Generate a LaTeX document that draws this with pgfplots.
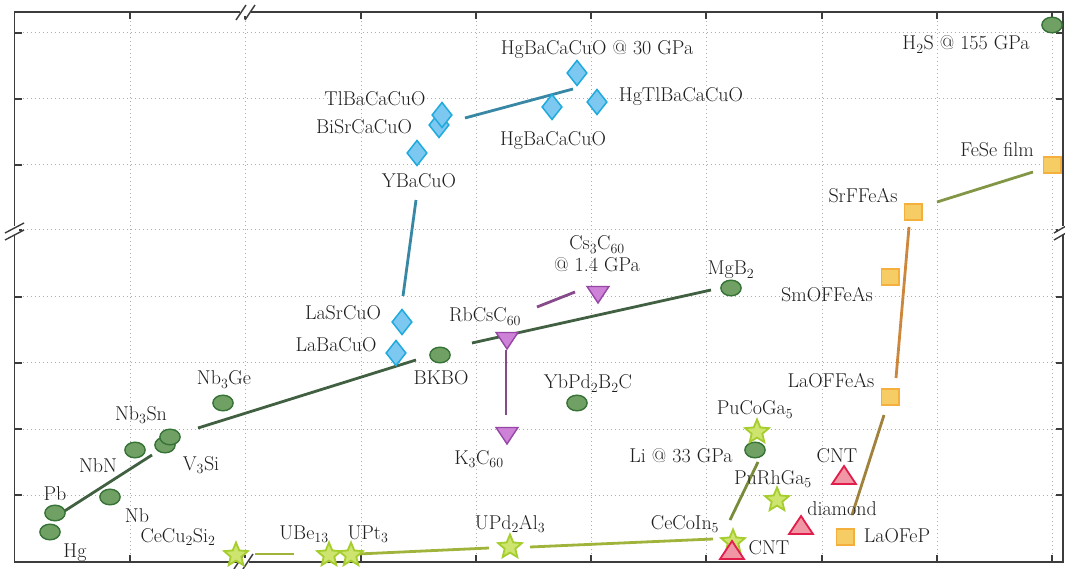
\documentclass[border=0pt]{standalone}
\usepackage{pgfplots}
\pgfplotsset{compat=1.18}
\definecolor{labc}{RGB}{30,30,30}
\definecolor{axc}{RGB}{60,60,60}
\definecolor{cfill}{RGB}{112,160,100}
\definecolor{cedge}{RGB}{55,115,55}
\definecolor{dfill}{RGB}{125,200,240}
\definecolor{dedge}{RGB}{30,170,220}
\definecolor{pfill}{RGB}{205,130,215}
\definecolor{pedge}{RGB}{150,70,165}
\definecolor{rfill}{RGB}{240,150,165}
\definecolor{redge}{RGB}{225,30,75}
\definecolor{sfill}{RGB}{205,228,110}
\definecolor{sedge}{RGB}{165,205,45}
\definecolor{qfill}{RGB}{245,205,100}
\definecolor{qedge}{RGB}{245,175,60}
\definecolor{lblue}{RGB}{55,135,165}
\definecolor{lgreen}{RGB}{65,95,65}
\definecolor{lpurple}{RGB}{135,75,140}
\definecolor{lhf}{RGB}{160,180,60}
\definecolor{lolive}{RGB}{120,140,60}
\definecolor{lbrown}{RGB}{160,130,60}
\definecolor{lorange}{RGB}{205,135,60}
\definecolor{lfese}{RGB}{130,150,70}
\pgfdeclareplotmark{pent}{%
  \pgfpathmoveto{\pgfqpointpolar{90}{\pgfplotmarksize}}%
  \pgfpathlineto{\pgfqpointpolar{126}{0.45\pgfplotmarksize}}%
  \pgfpathlineto{\pgfqpointpolar{162}{\pgfplotmarksize}}%
  \pgfpathlineto{\pgfqpointpolar{198}{0.45\pgfplotmarksize}}%
  \pgfpathlineto{\pgfqpointpolar{234}{\pgfplotmarksize}}%
  \pgfpathlineto{\pgfqpointpolar{270}{0.45\pgfplotmarksize}}%
  \pgfpathlineto{\pgfqpointpolar{306}{\pgfplotmarksize}}%
  \pgfpathlineto{\pgfqpointpolar{342}{0.45\pgfplotmarksize}}%
  \pgfpathlineto{\pgfqpointpolar{18}{\pgfplotmarksize}}%
  \pgfpathlineto{\pgfqpointpolar{54}{0.45\pgfplotmarksize}}%
  \pgfpathclose
  \pgfusepathqfillstroke}
\tikzset{lab/.style={anchor=base, text=labc, inner sep=0pt, font=\fontsize{20}{24}\selectfont}}
\begin{document}
\begin{tikzpicture}
\path[use as bounding box] (-14.5pt,-6pt) rectangle (1050.5pt,562pt);
\begin{axis}[
  at={(0pt,0pt)}, anchor=south west,
  scale only axis, width=1048.5pt, height=550pt,
  xmin=14.5, xmax=1063, ymin=6, ymax=556,
  xtick={130,245,361,476,591,706,822,937,1052},
  ytick={73,139,205,271,338,403,469,535},
  xticklabels={}, yticklabels={},
  grid=major,
  major grid style={gray!65, line width=1pt, dash pattern=on 1.2pt off 2.8pt},
  axis line style={axc, line width=1.8pt},
  major tick length=7pt,
  every tick/.style={axc, line width=1.5pt},
  tick align=inside,
  clip=false,
]
% trend lines
\addplot[lblue, line width=2.8pt] coordinates {(403,272) (416,368)};
\addplot[lblue, line width=2.8pt] coordinates {(465,450) (573,479)};
\addplot[lgreen, line width=2.8pt] coordinates {(63,56) (152,113)};
\addplot[lgreen, line width=2.8pt] coordinates {(198,140) (416,208)};
\addplot[lgreen, line width=2.8pt] coordinates {(472,225) (711,278)};
\addplot[lpurple, line width=2.8pt] coordinates {(506,218) (506,153)};
\addplot[lpurple, line width=2.8pt] coordinates {(537,261) (575,276)};
\addplot[lhf, line width=2.8pt] coordinates {(255,14) (294,14)};
\addplot[lhf, line width=2.8pt] coordinates {(358,14) (489,20)};
\addplot[lhf, line width=2.8pt] coordinates {(530,21) (713,29)};
\addplot[lolive, line width=2.8pt] coordinates {(730,48) (758,106)};
\addplot[lbrown, line width=2.8pt] coordinates {(852,53) (884,153)};
\addplot[lorange, line width=2.8pt] coordinates {(896,190) (909,341)};
\addplot[lfese, line width=2.8pt] coordinates {(937,366) (1033,396)};
% conventional (circles)
\addplot[only marks, mark=*, mark size=7.8pt, mark options={xscale=1.3, fill=cfill, draw=cedge, line width=1.4pt}]
 coordinates {(50,36) (55,55) (110,71) (135,118) (165,123) (170,131) (223,165) (440,213) (577,165) (731,280) (755,118) (1052,543)};
% cuprates (diamonds)
\addplot[only marks, mark=diamond*, mark size=12.5pt, mark options={xscale=1.05, fill=dfill, draw=dedge, line width=1.5pt}]
 coordinates {(396,215) (402,246) (417,415) (439,443) (442,453) (552,461) (597,466) (577,495)};
% fullerides (down triangles)
\addplot[only marks, mark=triangle*, mark size=11pt, mark options={rotate=180, xscale=1.15, fill=pfill, draw=pedge, line width=1.4pt}]
 coordinates {(507,230) (507,135) (598,276)};
% heavy fermions (stars)
\addplot[only marks, mark=pent, mark size=12.5pt, mark options={fill=sfill, draw=sedge, line width=1.8pt}]
 coordinates {(236,13) (329,13) (351,13) (510,21) (733,26) (757,136) (777,68)};
% carbon (up triangles)
\addplot[only marks, mark=triangle*, mark size=12pt, mark options={xscale=1.15, fill=rfill, draw=redge, line width=1.8pt}]
 coordinates {(732,15) (801,40) (844,90)};
% iron-based (squares)
\addplot[only marks, mark=square*, mark size=8pt, mark options={xscale=1.1, fill=qfill, draw=qedge, line width=1.4pt}]
 coordinates {(845,31) (890,171) (890,291) (913,356) (1052,403)};
% axis breaks
\fill[white] (axis cs:240,552) rectangle (axis cs:251,560);
\draw[axc, line width=1.4pt] (axis cs:236,548) -- (axis cs:246,563);
\draw[axc, line width=1.4pt] (axis cs:245,548) -- (axis cs:255,563);
\fill[white] (axis cs:238,2) rectangle (axis cs:249,10);
\draw[axc, line width=1.4pt] (axis cs:234,-1) -- (axis cs:244,14);
\draw[axc, line width=1.4pt] (axis cs:243,-1) -- (axis cs:253,14);
\fill[white] (axis cs:10,333) rectangle (axis cs:19,342);
\draw[axc, line width=1.4pt] (axis cs:5,328) -- (axis cs:24,338);
\draw[axc, line width=1.4pt] (axis cs:5,335) -- (axis cs:24,345);
\fill[white] (axis cs:1058,333) rectangle (axis cs:1066,342);
\draw[axc, line width=1.4pt] (axis cs:1054,328) -- (axis cs:1066,335);
\draw[axc, line width=1.4pt] (axis cs:1054,335) -- (axis cs:1066,342);
% labels
\node[lab] at (axis cs:597,513) {HgBaCaCuO @ 30 GPa};
\node[lab] at (axis cs:966,518) {H\textsubscript{2}S @ 155 GPa};
\node[lab] at (axis cs:375,462) {TlBaCaCuO};
\node[lab] at (axis cs:364,434) {BiSrCaCuO};
\node[lab] at (axis cs:419,380) {YBaCuO};
\node[lab] at (axis cs:681,466) {HgTlBaCaCuO};
\node[lab] at (axis cs:553,422) {HgBaCaCuO};
\node[lab] at (axis cs:997,411) {FeSe film};
\node[lab] at (axis cs:863,365) {SrFFeAs};
\node[lab] at (axis cs:597,318) {Cs\textsubscript{3}C\textsubscript{60}};
\node[lab] at (axis cs:597,296) {@ 1.4 GPa};
\node[lab] at (axis cs:731,293) {MgB\textsubscript{2}};
\node[lab] at (axis cs:827,266) {SmOFFeAs};
\node[lab] at (axis cs:343,248) {LaSrCuO};
\node[lab] at (axis cs:336,216) {LaBaCuO};
\node[lab] at (axis cs:485,246) {RbCsC\textsubscript{60}};
\node[lab] at (axis cs:441,184) {BKBO};
\node[lab] at (axis cs:588,179) {YbPd\textsubscript{2}B\textsubscript{2}C};
\node[lab] at (axis cs:224,183) {Nb\textsubscript{3}Ge};
\node[lab] at (axis cs:831,181) {LaOFFeAs};
\node[lab] at (axis cs:755,153) {PuCoGa\textsubscript{5}};
\node[lab] at (axis cs:141,148) {Nb\textsubscript{3}Sn};
\node[lab] at (axis cs:479,104) {K\textsubscript{3}C\textsubscript{60}};
\node[lab] at (axis cs:837,106) {CNT};
\node[lab] at (axis cs:681,106) {Li @ 33 GPa};
\node[lab] at (axis cs:98,96) {NbN};
\node[lab] at (axis cs:201,98) {V\textsubscript{3}Si};
\node[lab] at (axis cs:773,84) {PuRhGa\textsubscript{5}};
\node[lab] at (axis cs:55,68) {Pb};
\node[lab] at (axis cs:137,46) {Nb};
\node[lab] at (axis cs:842,53) {diamond};
\node[lab] at (axis cs:178,26) {CeCu\textsubscript{2}Si\textsubscript{2}};
\node[lab] at (axis cs:304,29) {UBe\textsubscript{13}};
\node[lab] at (axis cs:368,29) {UPt\textsubscript{3}};
\node[lab] at (axis cs:510,39) {UPd\textsubscript{2}Al\textsubscript{3}};
\node[lab] at (axis cs:685,39) {CeCoIn\textsubscript{5}};
\node[lab] at (axis cs:75,11) {Hg};
\node[lab] at (axis cs:769,14) {CNT};
\node[lab] at (axis cs:897,26) {LaOFeP};
\end{axis}
\end{tikzpicture}
\end{document}
